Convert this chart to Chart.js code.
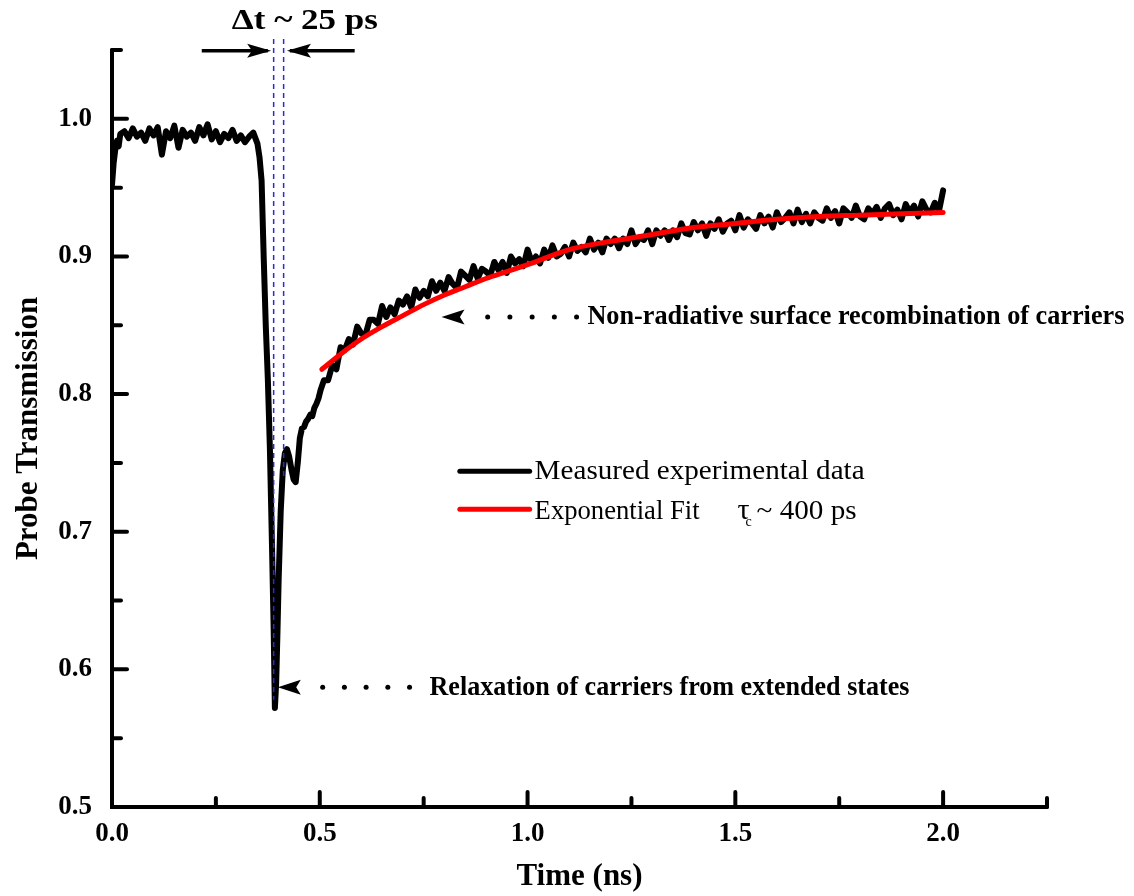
<!DOCTYPE html>
<html>
<head>
<meta charset="utf-8">
<script src="https://cdn.jsdelivr.net/npm/chart.js@4.4.0/dist/chart.umd.min.js"></script>
<style>
  html, body { margin: 0; padding: 0; background: #fff; }
  #wrap { width: 1134px; height: 896px; position: relative; }
</style>
</head>
<body>
<div id="wrap"><canvas id="myChart"></canvas></div>
<script>
// measured trace (ns, transmission)
var measTime = [
  0, 0.004, 0.008, 0.012, 0.016, 0.02, 0.03, 0.04, 0.05, 0.06, 0.07, 0.08, 0.09, 0.10,
  0.11, 0.12, 0.13, 0.14, 0.15, 0.16, 0.17, 0.18, 0.19, 0.20, 0.21, 0.22, 0.23, 0.24,
  0.25, 0.26, 0.27, 0.28, 0.29, 0.30, 0.31, 0.32, 0.33, 0.34, 0.345,
  0.35, 0.355, 0.36, 0.365, 0.37, 0.375, 0.38, 0.385, 0.389, 0.392, 0.395, 0.398, 0.401,
  0.406, 0.411, 0.416, 0.421, 0.426, 0.432, 0.437, 0.442, 0.447, 0.452, 0.457, 0.462,
  0.467, 0.472, 0.477, 0.482, 0.487, 0.492, 0.497, 0.502,
  0.51, 0.52, 0.53, 0.54, 0.55, 0.56, 0.57, 0.58, 0.59, 0.60,
  0.61, 0.62, 0.63, 0.64, 0.65, 0.66, 0.67, 0.68, 0.69, 0.70,
  0.71, 0.72, 0.73, 0.74, 0.75, 0.76, 0.77, 0.78, 0.79, 0.80,
  0.81, 0.82, 0.83, 0.84, 0.85, 0.86, 0.87, 0.88, 0.89, 0.90,
  0.91, 0.92, 0.93, 0.94, 0.95, 0.96, 0.97, 0.98, 0.99, 1.00,
  1.01, 1.02, 1.03, 1.04, 1.05, 1.06, 1.07, 1.08, 1.09, 1.10,
  1.11, 1.12, 1.13, 1.14, 1.15, 1.16, 1.17, 1.18, 1.19, 1.20,
  1.21, 1.22, 1.23, 1.24, 1.25, 1.26, 1.27, 1.28, 1.29, 1.30,
  1.31, 1.32, 1.33, 1.34, 1.35, 1.36, 1.37, 1.38, 1.39, 1.40,
  1.41, 1.42, 1.43, 1.44, 1.45, 1.46, 1.47, 1.48, 1.49, 1.50,
  1.51, 1.52, 1.53, 1.54, 1.55, 1.56, 1.57, 1.58, 1.59, 1.60,
  1.61, 1.62, 1.63, 1.64, 1.65, 1.66, 1.67, 1.68, 1.69, 1.70,
  1.71, 1.72, 1.73, 1.74, 1.75, 1.76, 1.77, 1.78, 1.79, 1.80,
  1.81, 1.82, 1.83, 1.84, 1.85, 1.86, 1.87, 1.88, 1.89, 1.90,
  1.91, 1.92, 1.93, 1.94, 1.95, 1.96, 1.97, 1.98, 1.99, 2.00
];
var measValue = [
  0.952, 0.968, 0.978, 0.984, 0.980, 0.989, 0.991, 0.986, 0.993, 0.987, 0.990, 0.984, 0.993, 0.988,
  0.994, 0.974, 0.991, 0.986, 0.995, 0.979, 0.992, 0.987, 0.990, 0.984, 0.994, 0.988, 0.996, 0.985,
  0.991, 0.983, 0.989, 0.986, 0.992, 0.984, 0.988, 0.983, 0.987, 0.990, 0.986,
  0.982, 0.972, 0.955, 0.900, 0.850, 0.811, 0.760, 0.690, 0.630, 0.572, 0.590, 0.625, 0.665,
  0.715, 0.745, 0.757, 0.760, 0.755, 0.745, 0.738, 0.736, 0.750, 0.768, 0.775, 0.776,
  0.780, 0.782, 0.785, 0.784, 0.790, 0.793, 0.797, 0.803,
  0.810, 0.810, 0.821, 0.818, 0.834, 0.832, 0.840, 0.836, 0.849, 0.844,
  0.843, 0.854, 0.854, 0.851, 0.864, 0.856, 0.863, 0.858, 0.868, 0.865,
  0.871, 0.863, 0.876, 0.870, 0.875, 0.871, 0.882, 0.875, 0.881, 0.875,
  0.885, 0.880, 0.877, 0.889, 0.886, 0.883, 0.893, 0.884, 0.891, 0.889,
  0.886, 0.896, 0.890, 0.896, 0.888, 0.900, 0.895, 0.898, 0.893, 0.905,
  0.896, 0.900, 0.895, 0.905, 0.899, 0.908, 0.900, 0.902, 0.907, 0.900,
  0.910, 0.904, 0.907, 0.903, 0.913, 0.905, 0.910, 0.903, 0.913, 0.909,
  0.913, 0.906, 0.913, 0.909, 0.919, 0.909, 0.914, 0.912, 0.919, 0.909,
  0.919, 0.915, 0.919, 0.912, 0.919, 0.914, 0.924, 0.917, 0.916, 0.925,
  0.919, 0.924, 0.915, 0.924, 0.920, 0.927, 0.918, 0.924, 0.926, 0.919,
  0.930, 0.921, 0.927, 0.924, 0.920, 0.930, 0.924, 0.929, 0.921, 0.932,
  0.925, 0.928, 0.932, 0.924, 0.934, 0.925, 0.931, 0.924, 0.932, 0.928,
  0.926, 0.935, 0.928, 0.933, 0.924, 0.935, 0.932, 0.928, 0.937, 0.929,
  0.927, 0.935, 0.931, 0.936, 0.928, 0.935, 0.938, 0.930, 0.934, 0.927,
  0.938, 0.932, 0.937, 0.929, 0.940, 0.934, 0.932, 0.939, 0.933, 0.948
];

// exponential fit (tau_c ~ 400 ps)
var fitTime  = [0.505, 0.55, 0.60, 0.65, 0.70, 0.75, 0.80, 0.85, 0.90, 0.95, 1.00, 1.10, 1.20, 1.30, 1.40, 1.50, 1.60, 1.70, 1.80, 1.90, 2.00];
var fitValue = [0.818, 0.829, 0.840, 0.849, 0.857, 0.865, 0.872, 0.878, 0.884, 0.889, 0.894, 0.905, 0.911, 0.916, 0.921, 0.924, 0.927, 0.929, 0.930, 0.931, 0.932];

var seriesNames = ['Measured experimental data', 'Exponential Fit'];
var seriesColors = ['#000000', '#ff0000'];

var xRange = [0, 2.25], xStep = 0.25, xLabelStep = 0.5;
var yRange = [0.5, 1.05], yStep = 0.05, yLabelStep = 0.1;

var SERIF = '"Liberation Serif", "Times New Roman", serif';

function onStep(v, step) {
    return Math.abs(v / step - Math.round(v / step)) < 1e-6;
}

// text drawn at a given size, squeezed/stretched to the width seen in the figure
function fitText(ctx, text, x, y, size, weight, width, align) {
    ctx.font = weight + ' ' + size + 'px ' + SERIF;
    var w = ctx.measureText(text).width;
    var sx = width ? width / w : 1;
    ctx.save();
    ctx.translate(x, y);
    ctx.scale(sx, 1);
    ctx.textAlign = align || 'left';
    ctx.textBaseline = 'alphabetic';
    ctx.fillText(text, 0, 0);
    ctx.restore();
}

function arrowHead(ctx, tipX, tipY, dir, len, half) {
    ctx.beginPath();
    ctx.moveTo(tipX, tipY);
    ctx.lineTo(tipX - dir * len, tipY - half);
    ctx.lineTo(tipX - dir * len * 0.8, tipY);
    ctx.lineTo(tipX - dir * len, tipY + half);
    ctx.closePath();
    ctx.fill();
}

var axesLook = {
    id: 'axesLook',
    afterDatasetsDraw: function(chart) {
        var ctx = chart.ctx, a = chart.chartArea;
        var xs = chart.scales.x, ys = chart.scales.y;
        ctx.save();
        ctx.strokeStyle = '#000';
        ctx.lineWidth = 4;
        ctx.lineCap = 'round';
        ctx.lineJoin = 'miter';
        ctx.beginPath();
        ctx.moveTo(a.left, a.top);
        ctx.lineTo(a.left, a.bottom);
        ctx.lineTo(a.right, a.bottom);
        ctx.stroke();
        ys.ticks.forEach(function(t) {
            var p = ys.getPixelForValue(t.value);
            var len = onStep(t.value, yLabelStep) ? 15 : 9;
            ctx.beginPath();
            ctx.moveTo(a.left, p);
            ctx.lineTo(a.left + len, p);
            ctx.stroke();
        });
        xs.ticks.forEach(function(t) {
            var p = xs.getPixelForValue(t.value);
            var len = onStep(t.value, xLabelStep) ? 15 : 9;
            ctx.beginPath();
            ctx.moveTo(p, a.bottom);
            ctx.lineTo(p, a.bottom - len);
            ctx.stroke();
        });
        ctx.restore();
    }
};

var notes = {
    id: 'notes',
    afterDraw: function(chart) {
        var ctx = chart.ctx;
        var xs = chart.scales.x, ys = chart.scales.y;
        var px = function(t) { return xs.getPixelForValue(t); };
        var py = function(v) { return ys.getPixelForValue(v); };
        ctx.save();
        ctx.fillStyle = '#000';

        // blue dashed markers of the 25 ps interval
        ctx.strokeStyle = '#2a2ad8';
        ctx.lineWidth = 1.5;
        ctx.setLineDash([5, 4]);
        ctx.beginPath();
        ctx.moveTo(px(0.389), py(1.058)); ctx.lineTo(px(0.389), py(0.578));
        ctx.moveTo(px(0.413), py(1.058)); ctx.lineTo(px(0.413), py(0.740));
        ctx.stroke();
        ctx.setLineDash([]);

        // arrows pointing at the interval
        ctx.strokeStyle = '#000';
        ctx.lineWidth = 3.5;
        var ay = py(1.0495);
        ctx.beginPath();
        ctx.moveTo(px(0.216), ay); ctx.lineTo(px(0.375), ay);
        ctx.moveTo(px(0.584), ay); ctx.lineTo(px(0.428), ay);
        ctx.stroke();
        arrowHead(ctx, px(0.383), ay, 1, 24, 7);
        arrowHead(ctx, px(0.421), ay, -1, 24, 7);

        fitText(ctx, '\u0394t ~ 25 ps', px(0.464), py(1.0655), 29, 'bold', 146, 'center');

        // dotted arrows with notes
        function dotted(tipT, v, d0, d1, n) {
            var y = py(v);
            arrowHead(ctx, px(tipT), y, -1, 23, 7.5);
            for (var i = 0; i < n; i++) {
                var x = px(d0) + (px(d1) - px(d0)) * i / (n - 1);
                ctx.beginPath();
                ctx.arc(x, y, 2.5, 0, Math.PI * 2);
                ctx.fill();
            }
        }
        dotted(0.399, 0.587, 0.507, 0.716, 5);
        fitText(ctx, 'Relaxation of carriers from extended states', px(0.764), py(0.5811), 27, 'bold', 480);
        dotted(0.793, 0.856, 0.904, 1.118, 5);
        fitText(ctx, 'Non-radiative surface recombination of carriers', px(1.144), py(0.851), 27, 'bold', 537);

        // legend
        var l0 = px(0.837), l1 = px(1.005), tx = px(1.017);
        ctx.lineWidth = 5;
        ctx.lineCap = 'round';
        ctx.strokeStyle = seriesColors[0];
        ctx.beginPath(); ctx.moveTo(l0, py(0.744)); ctx.lineTo(l1, py(0.744)); ctx.stroke();
        ctx.strokeStyle = seriesColors[1];
        ctx.beginPath(); ctx.moveTo(l0, py(0.7164)); ctx.lineTo(l1, py(0.7164)); ctx.stroke();
        ctx.fillStyle = '#000';
        fitText(ctx, seriesNames[0], tx, py(0.738), 28, 'normal', 330);
        var by = py(0.709);
        fitText(ctx, seriesNames[1], tx, by, 28, 'normal', 165);
        fitText(ctx, '\u03c4', tx + 203, by, 30, 'normal', 0);
        fitText(ctx, 'c', tx + 211, by + 7, 14, 'normal', 0);
        fitText(ctx, '~ 400 ps', tx + 222, by, 28, 'normal', 100);
        ctx.restore();
    }
};

var dataObj = {
    type: 'line',
    data: {
        datasets: [{
            label: seriesNames[1],
            data: fitTime.map(function(t, i) { return { x: t, y: fitValue[i] }; }),
            borderColor: seriesColors[1],
            borderWidth: 5,
            cubicInterpolationMode: 'monotone',
            pointRadius: 0,
            borderCapStyle: 'round',
            order: 0
        }, {
            label: seriesNames[0],
            data: measTime.map(function(t, i) { return { x: t, y: measValue[i] }; }),
            borderColor: seriesColors[0],
            borderWidth: 6,
            tension: 0,
            pointRadius: 0,
            borderJoinStyle: 'round',
            borderCapStyle: 'round',
            order: 1
        }]
    },
    options: {
        animation: false,
        responsive: true,
        maintainAspectRatio: false,
        layout: { padding: { left: 0, right: 87, top: 50, bottom: 0 } },
        plugins: { legend: { display: false }, tooltip: { enabled: false } },
        scales: {
            x: {
                type: 'linear',
                min: xRange[0], max: xRange[1],
                afterFit: function(s) { s.height = 89; },
                grid: { display: false, drawTicks: false },
                border: { display: false },
                ticks: {
                    stepSize: xStep, autoSkip: false, maxRotation: 0, padding: 11,
                    color: '#000',
                    font: { family: SERIF, size: 27, weight: 'bold' },
                    callback: function(v) { return onStep(v, xLabelStep) ? v.toFixed(1) : ''; }
                },
                title: {
                    display: true, text: 'Time (ns)', color: '#000',
                    font: { family: SERIF, size: 31, weight: 'bold' },
                    padding: { top: 0, bottom: 0 }
                }
            },
            y: {
                min: yRange[0], max: yRange[1],
                afterFit: function(s) { s.width = 112; },
                grid: { display: false, drawTicks: false },
                border: { display: false },
                ticks: {
                    stepSize: yStep, autoSkip: false, padding: 20,
                    color: '#000',
                    font: { family: SERIF, size: 27, weight: 'bold' },
                    callback: function(v) { return onStep(v, yLabelStep) ? v.toFixed(1) : ''; }
                },
                title: {
                    display: true, text: 'Probe Transmission', color: '#000',
                    font: { family: SERIF, size: 31, weight: 'bold' },
                    padding: { top: 10, bottom: 0 }
                }
            }
        }
    },
    plugins: [axesLook, notes]
};

var ctx = document.getElementById('myChart').getContext('2d');
window.myLine = new Chart(ctx, dataObj);
</script>
</body>
</html>
